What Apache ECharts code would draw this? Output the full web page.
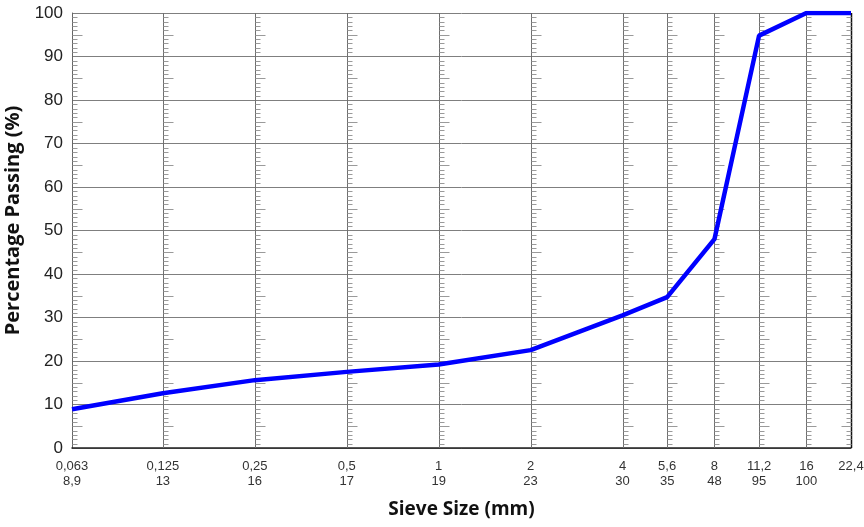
<!DOCTYPE html>
<html>
<head>
<meta charset="utf-8">
<script src="https://cdn.jsdelivr.net/npm/echarts@6/dist/echarts.min.js"></script>
<style>html,body{margin:0;padding:0;background:#fff}#c{width:864px;height:527px}</style>
</head>
<body>
<div id="c"></div>
<script>
// Sieve sizes (mm) and percentage passing
var sieveSizes = [0.063, 0.125, 0.25, 0.5, 1, 2, 4, 5.6, 8, 11.2, 16, 22.4];
var sieveLabels = ['0,063', '0,125', '0,25', '0,5', '1', '2', '4', '5,6', '8', '11,2', '16', '22,4'];
var passingLabels = ['8,9', '13', '16', '17', '19', '23', '30', '35', '48', '95', '100', ''];
var passingValues = [8.9, 12.6, 15.6, 17.5, 19.2, 22.5, 30.5, 34.7, 48, 94.8, 100, 100];
var yTicks = [0, 10, 20, 30, 40, 50, 60, 70, 80, 90, 100];

var chart = echarts.init(document.getElementById('c'));

function labelFor(v) {
  var best = 0, bd = Infinity;
  for (var i = 0; i < sieveSizes.length; i++) {
    var d = Math.abs(Math.log(v) - Math.log(sieveSizes[i]));
    if (d < bd) { bd = d; best = i; }
  }
  return '{a|' + sieveLabels[best] + '}\n{a|' + passingLabels[best] + '}';
}

var lastX = sieveSizes[sieveSizes.length - 1];

chart.setOption({
  animation: false,
  grid: { left: 72, right: 13, top: 13, bottom: 79, containLabel: false, outerBoundsMode: 'none' },
  xAxis: {
    type: 'log',
    logBase: 2,
    min: sieveSizes[0],
    max: lastX,
    name: 'Sieve Size (mm)',
    nameLocation: 'middle',
    nameGap: 52,
    nameTextStyle: { fontFamily: 'Open Sans', fontWeight: 'bold', fontSize: 19, color: '#111' },
    axisLine: { show: true, lineStyle: { color: '#222', width: 1.5 } },
    axisTick: { show: false },
    splitLine: { show: false },
    minorTick: { show: false },
    minorSplitLine: { show: false },
    axisLabel: {
      customValues: sieveSizes,
      showMinLabel: true,
      showMaxLabel: true,
      hideOverlap: false,
      margin: 11,
      formatter: function (v) { return labelFor(v); },
      rich: { a: { fontFamily: 'Liberation Sans', fontSize: 13, color: '#333', lineHeight: 15, align: 'center' } }
    }
  },
  yAxis: {
    type: 'value',
    min: 0,
    max: 100,
    interval: 10,
    name: 'Percentage Passing (%)',
    nameLocation: 'middle',
    nameGap: 46,
    nameTextStyle: { fontFamily: 'Open Sans', fontWeight: 'bold', fontSize: 20, color: '#111', padding: [0, 0, 0, 20] },
    axisLine: { show: true, lineStyle: { color: '#666', width: 1 } },
    axisTick: { show: false },
    axisLabel: { fontFamily: 'Liberation Sans', fontSize: 17, color: '#222', margin: 9 },
    splitLine: { show: true, lineStyle: { color: '#7f7f7f', width: 1 } }
  },
  series: [
    {
      type: 'custom',
      z: 1,
      silent: true,
      data: sieveSizes.map(function (s) { return [s]; }),
      renderItem: function (params, api) {
        var x = api.value(0);
        var isLast = Math.abs(x - lastX) < 1e-9;
        var isFirst = Math.abs(x - sieveSizes[0]) < 1e-9;
        var p0 = api.coord([x, 0]);
        var p1 = api.coord([x, 100]);
        var children = [];
        var px = Math.round(p0[0]) + 0.5;
        if (!isFirst) {
          children.push({
            type: 'line',
            shape: { x1: px, y1: p0[1], x2: px, y2: p1[1] },
            style: { stroke: isLast ? '#111' : '#6f6f6f', lineWidth: isLast ? 1.5 : 1 }
          });
        }
        var dir = isLast ? -1 : 1;
        for (var y = 1; y < 100; y++) {
          if (y % 10 === 0) continue;
          var py = Math.round(api.coord([x, y])[1]) + 0.5;
          var len = (y % 5 === 0) ? 10 : 5;
          children.push({
            type: 'line',
            shape: { x1: px, y1: py, x2: px + dir * len, y2: py },
            style: { stroke: '#9a9a9a', lineWidth: 1 }
          });
        }
        return { type: 'group', children: children };
      }
    },
    {
      type: 'line',
      z: 5,
      data: sieveSizes.map(function (s, i) { return [s, passingValues[i]]; }),
      showSymbol: false,
      symbol: 'none',
      lineStyle: { color: '#0000ff', width: 4.5 },
      itemStyle: { color: '#0000ff' }
    }
  ]
});
</script>
</body>
</html>
